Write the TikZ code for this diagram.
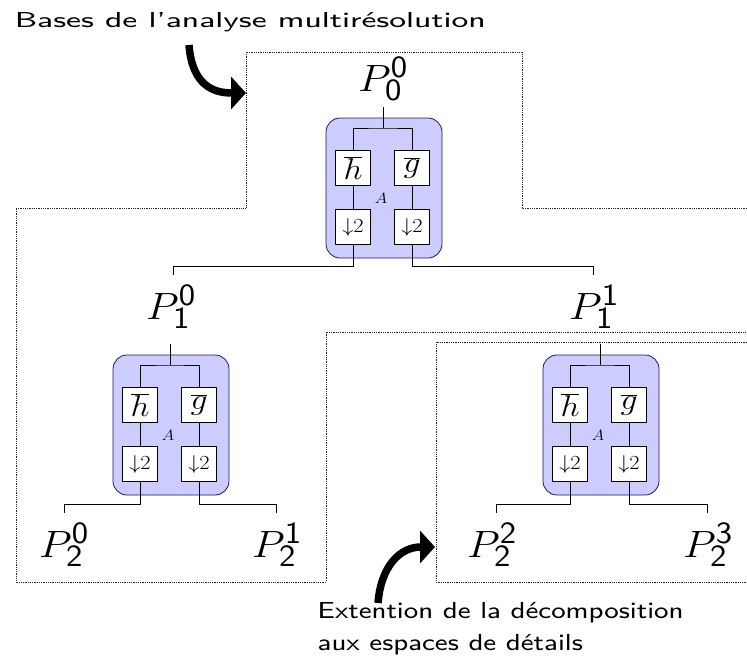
\RequirePackage{fix-cm}
\documentclass[tikz,border=0pt]{standalone}
\usetikzlibrary{arrows.meta}
\DeclareMathSizes{38}{38}{31}{22}
\tikzset{
 blk/.style={draw=black!60!blue!80!gray, fill=blue!20, rounded corners=14pt, minimum width=116pt, minimum height=140pt, line width=0.8pt, inner sep=0pt},
 fbox/.style={draw, fill=white, minimum width=31.25pt, minimum height=35pt, inner sep=0pt, line width=0.7pt, xscale=1.12},
 lbl/.style={font=\fontsize{38}{44}\selectfont, inner sep=0pt, anchor=base, xscale=1.12},
 wire/.style={line width=0.7pt},
 zone/.style={densely dotted, line width=0.8pt, black!85},
 bigarrow/.style={line width=7.5pt, -{Triangle[length=15pt,width=32pt]}},
 sanstitle/.style={font=\fontsize{8}{10}\selectfont\sffamily, xscale=3.95, yscale=2.7, inner sep=0pt, anchor=base west},
 sansnote/.style={font=\fontsize{8}{10}\selectfont\sffamily, xscale=3.4, yscale=2.9, inner sep=0pt, anchor=base west},
}
\newcommand\fbank[3]{%
 \begin{scope}[shift={(#2,#3)}]
  \node[blk] (#1) at (58,70) {};
  \coordinate (#1top) at (57,-11);
  \coordinate (#1j) at (57,10);
  \node[fbox] (#1h) at (27,50) {\fontsize{30}{34}\selectfont$\overline{h}$};
  \node[fbox] (#1g) at (86,50) {\fontsize{30}{34}\selectfont$\overline{g}$};
  \node[fbox] (#1d1) at (27,109) {\fontsize{20}{22}\selectfont$\downarrow$2};
  \node[fbox] (#1d2) at (86,109) {\fontsize{20}{22}\selectfont$\downarrow$2};
  \node[inner sep=0pt, xscale=1.12] (#1A) at (55,80) {\fontsize{15}{18}\selectfont$A$};
  \draw[wire] (#1top) -- (#1j);
  \draw[wire] (#1h.north) |- (#1j) -| (#1g.north);
  \draw[wire] (#1h.south) -- (#1d1.north);
  \draw[wire] (#1g.south) -- (#1d2.north);
 \end{scope}}
\begin{document}
\begin{tikzpicture}[x=1pt,y=-1pt]
\useasboundingbox (0,0) rectangle (747,656);
% zones
\draw[zone] (747,208) -- (522,208) -- (522,52) -- (246,52) -- (246,208) -- (16,208) -- (16,582) -- (326,582) -- (326,332) -- (747,332);
\draw[zone] (747,342) -- (436,342) -- (436,582) -- (747,582);
% labels
\node[lbl] (P00) at (383,91) {$P^{\mathsf{0}}_{\mathsf{0}}$};
\node[lbl] (P10) at (171,319) {$P^{\mathsf{0}}_{\mathsf{1}}$};
\node[lbl] (P11) at (594,319) {$P^{\mathsf{1}}_{\mathsf{1}}$};
\node[lbl] (P20) at (64,557) {$P^{\mathsf{0}}_{\mathsf{2}}$};
\node[lbl] (P21) at (277,557) {$P^{\mathsf{1}}_{\mathsf{2}}$};
\node[lbl] (P22) at (492,557) {$P^{\mathsf{2}}_{\mathsf{2}}$};
\node[lbl] (P23) at (708,557) {$P^{\mathsf{3}}_{\mathsf{2}}$};
% filter banks
\fbank{t}{326}{118}
\fbank{l}{113}{355}
\fbank{r}{543}{355}
% connections
\coordinate (tL) at (173,266); \coordinate (P10t) at (173,275);
\coordinate (tR) at (593,266); \coordinate (P11t) at (593,275);
\coordinate (lL) at (64,504);  \coordinate (P20t) at (64,513);
\coordinate (lR) at (276,504); \coordinate (P21t) at (276,513);
\coordinate (rL) at (496,504); \coordinate (P22t) at (496,513);
\coordinate (rR) at (707,504); \coordinate (P23t) at (707,513);
\draw[wire] (td1.south) |- (tL) -- (P10t);
\draw[wire] (td2.south) |- (tR) -- (P11t);
\draw[wire] (ld1.south) |- (lL) -- (P20t);
\draw[wire] (ld2.south) |- (lR) -- (P21t);
\draw[wire] (rd1.south) |- (rL) -- (P22t);
\draw[wire] (rd2.south) |- (rR) -- (P23t);
% texts
\node[sanstitle] (title) at (14,27) {Bases de l'analyse multirésolution};
\node[sansnote] (ext1) at (317,618) {Extention de la décomposition};
\node[sansnote] (ext2) at (317,650) {aux espaces de détails};
% arrows
\coordinate (a1s) at (189,45); \coordinate (a1e) at (246,93);
\coordinate (a2s) at (378,603); \coordinate (a2e) at (435,547);
\draw[bigarrow] (a1s) .. controls (192,84) and (212,93) .. (a1e);
\draw[bigarrow] (a2s) .. controls (381,566) and (400,547) .. (a2e);
\end{tikzpicture}
\end{document}
